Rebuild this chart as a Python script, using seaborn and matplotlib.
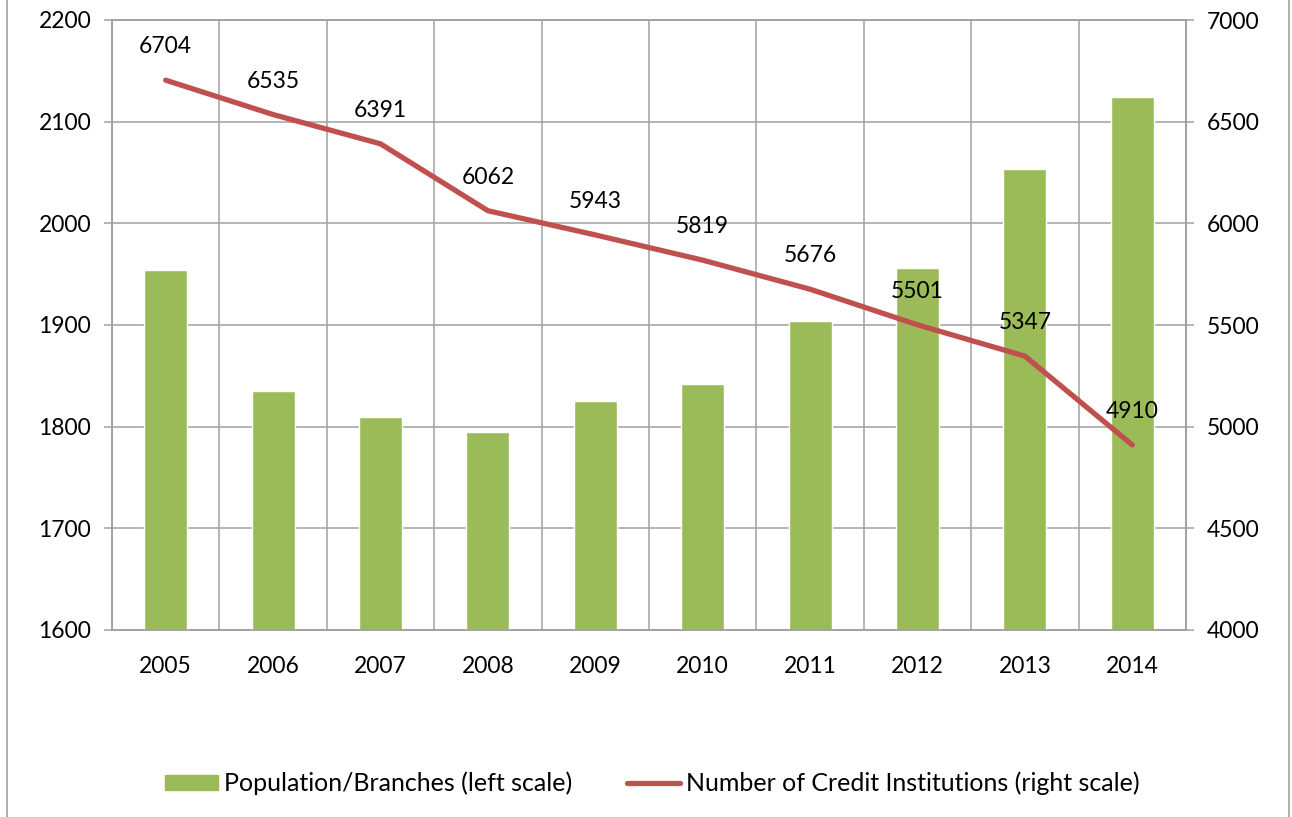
import numpy as np
import pandas as pd
import seaborn as sns
import matplotlib.pyplot as plt
from matplotlib.lines import Line2D
from matplotlib.patches import Patch

# chart data
years = ['2005', '2006', '2007', '2008', '2009', '2010', '2011', '2012', '2013', '2014']
pop_per_branch = [1954, 1835, 1810, 1795, 1825, 1842, 1904, 1956, 2053, 2124]
credit_inst = [6704, 6535, 6391, 6062, 5943, 5819, 5676, 5501, 5347, 4910]
left_ticks = [1600, 1700, 1800, 1900, 2000, 2100, 2200]
right_ticks = [4000, 4500, 5000, 5500, 6000, 6500, 7000]

bar_color = '#9BBB59'
line_color = '#C0504D'
grid_color = '#A0A0A0'

sns.set_style('white')
plt.rcParams['font.family'] = ['Lato', 'DejaVu Sans']
plt.rcParams['font.size'] = 16.5
plt.rcParams['text.color'] = 'black'
plt.rcParams['xtick.labelcolor'] = 'black'
plt.rcParams['ytick.labelcolor'] = 'black'

df = pd.DataFrame({'year': years, 'pop': pop_per_branch, 'ci': credit_inst})

fig = plt.figure(figsize=(12.92, 8.17), dpi=100)
ax = fig.add_axes([112 / 1292, 1 - 630 / 817, (1186 - 112) / 1292, 610 / 817])

sns.barplot(data=df, x='year', y='pop', color=bar_color, width=0.4,
            saturation=1, ax=ax, zorder=3)
ax.set_ylim(1600, 2200)
ax.set_xlim(-0.5, 9.5)
ax.set_yticks(left_ticks)
ax.set_xlabel('')
ax.set_ylabel('')

# excel-like grid: horizontal at ticks, vertical at category borders
for v in left_ticks:
    ax.axhline(v, color=grid_color, lw=1.1, zorder=1)
for b in np.arange(-0.5, 10, 1):
    ax.axvline(b, color=grid_color, lw=1.1, zorder=1)
ax.set_xticks(np.arange(-0.5, 10, 1), minor=True)
ax.tick_params(axis='x', which='minor', length=6, color=grid_color, width=1.1)
ax.tick_params(axis='x', which='major', length=0, pad=19, labelcolor='black')
ax.tick_params(axis='y', length=6, color=grid_color, width=1.1, pad=9,
               labelcolor='black')
for s in ax.spines.values():
    s.set_color(grid_color)
    s.set_linewidth(1.1)

ax2 = ax.twinx()
sns.lineplot(x=np.arange(len(years)), y=credit_inst, color=line_color,
             lw=3.8, ax=ax2, solid_capstyle='round', zorder=4)
ax2.set_ylim(4000, 7000)
ax2.set_yticks(right_ticks)
ax2.set_xlim(-0.5, 9.5)
ax2.tick_params(axis='y', length=6, color=grid_color, width=1.1, pad=9,
                labelcolor='black')
for s in ax2.spines.values():
    s.set_color(grid_color)
    s.set_linewidth(1.1)

for i, v in enumerate(credit_inst):
    ax2.annotate(str(v), (i, v), xytext=(0, 24), textcoords='offset points',
                 ha='center', va='center', fontsize=16.5, color='black')

handles = [Patch(color=bar_color, label='Population/Branches (left scale)'),
           Line2D([0], [0], color=line_color, lw=3.8,
                  label='Number of Credit Institutions (right scale)')]
fig.legend(handles=handles, loc='center', bbox_to_anchor=(0.505, 0.041),
           ncol=2, frameon=False, fontsize=18, handlelength=2.1,
           handleheight=0.6, handletextpad=0.25, columnspacing=2.2,
           labelcolor='black')

# chart frame edges
fig.add_artist(Line2D([7 / 1292, 7 / 1292], [0, 1], color=grid_color, lw=1.2))
fig.add_artist(Line2D([1289 / 1292, 1289 / 1292], [0, 1], color=grid_color, lw=1.2))

fig.savefig('out.png', dpi=100)
